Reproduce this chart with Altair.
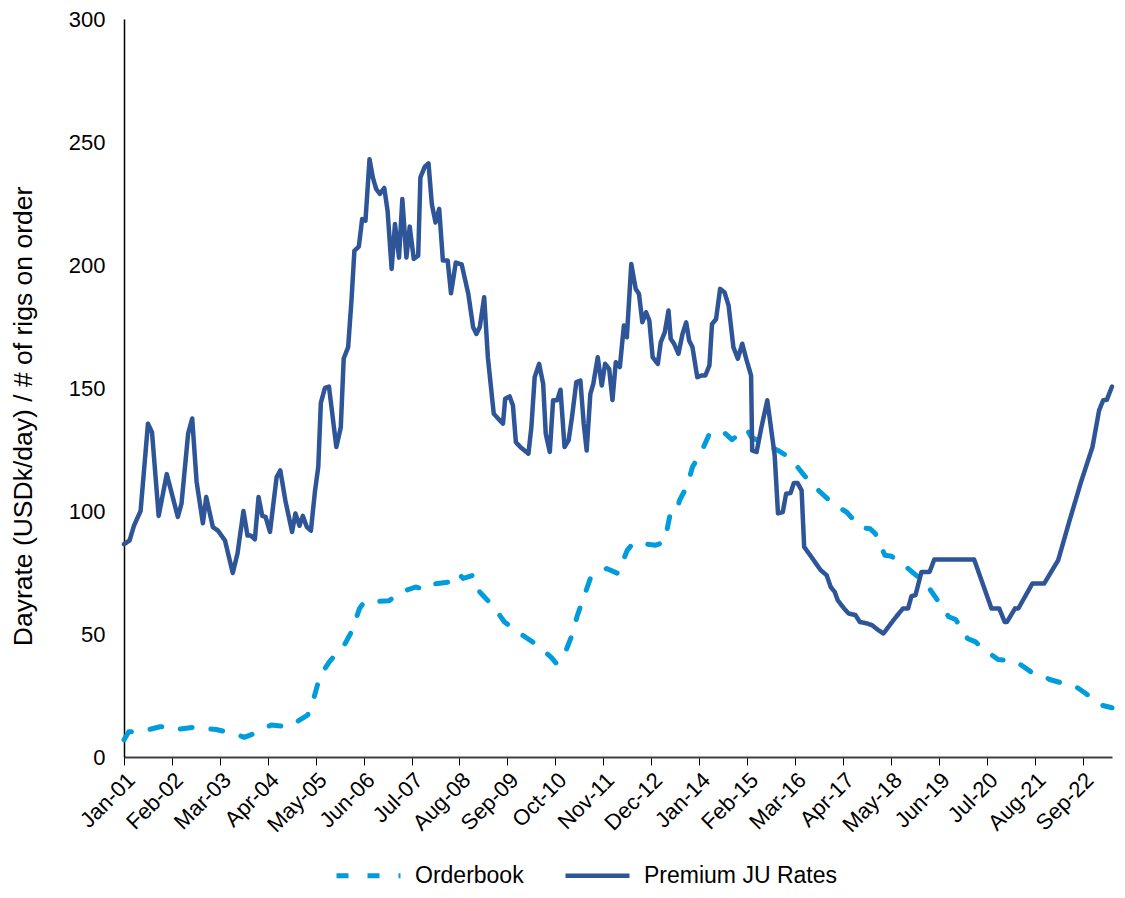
import json
import altair as alt
import pandas as pd

tick_labels = ["Jan-01", "Feb-02", "Mar-03", "Apr-04", "May-05", "Jun-06", "Jul-07",
               "Aug-08", "Sep-09", "Oct-10", "Nov-11", "Dec-12", "Jan-14", "Feb-15",
               "Mar-16", "Apr-17", "May-18", "Jun-19", "Jul-20", "Aug-21", "Sep-22"]
tick_months = [13 * i for i in range(len(tick_labels))]  # category index of each label

# months since Jan-01 (category index) and values
premium_month = [0, 1.5, 2.7, 4.5, 6.5, 7.6, 9.4, 11.6, 14.6, 15.6, 17.4, 18.5, 19.7, 21.4, 22.3,
                 24.1, 25.5, 27.4, 29.5, 30.8, 32.4, 33.5, 34.4, 35.5, 36.5, 37.5, 38.4, 39.6,
                 41.4, 42.4, 43.8, 45.6, 46.5, 47.6, 48.5, 49.6, 50.7, 51.8, 52.7, 53.4, 54.5,
                 55.6, 57.6, 58.8, 59.6, 60.8, 61.7, 62.5, 63.7, 64.6, 65.5, 66.6, 67.5, 68.4,
                 69.4, 70.6, 71.5, 72.6, 73.5, 74.6, 75.5, 76.6, 77.5, 78.6, 79.8, 80.4, 81.6,
                 82.6, 83.5, 84.5, 85.5, 86.5, 87.8, 88.7, 90, 91.6, 93.4, 94.7, 95.6, 96.5,
                 97.7, 98.7, 100.3, 102.8, 103.4, 104.6, 105.5, 106.3, 107.5, 109.7, 110.5,
                 111.4, 112.6, 113.7, 114.4, 115.5, 116.4, 117.5, 118.4, 119.5, 120.6, 121.5,
                 122.7, 123.8, 124.7, 125.5, 126.5, 127.3, 128.5, 129.6, 130.5, 131.6, 132.5,
                 133.4, 134.5, 135.6, 136.4, 137.6, 138.8, 139.7, 140.6, 141.6, 142.5, 143.4,
                 144.8, 145.6, 146.7, 147.7, 148.3, 149.2, 150.4, 151.5, 152.5, 153.3, 154.2,
                 155.5, 156.7, 157.7, 158.8, 159.5, 160.6, 161.7, 162.9, 164, 165.3, 166.5,
                 167.7, 168.9, 170.1, 170.4, 171.6, 172.9, 174.5, 176.5, 177.4, 178.7, 179.6,
                 180.8, 181.7, 182.7, 183.8, 184.5, 186.8, 189, 190.6, 191.7, 192.8, 193.6,
                 195.3, 196.6, 198.4, 199.6, 201.5, 202.9, 204.6, 206, 208.7, 211.3, 212.7,
                 213.6, 214.7, 216.3, 218.5, 219.8, 230.6, 235.3, 237.4, 238.9, 239.5, 241.7,
                 242.6, 246.4, 249.6, 253.4, 256.5, 259.6, 262.7, 264.5, 265.6, 266.6, 268]
premium_value = [86.5, 88, 94, 100, 135.5, 132, 98, 115, 97.6, 103, 131.5, 137.6, 111.8, 95, 105.7,
                 93.5, 92, 88, 74.8, 82.8, 100, 90, 90, 88.5, 105.7, 98, 97.6, 91.5,
                 113.8, 116.5, 104, 91.5, 99, 94, 98, 93.5, 92, 108, 118, 144, 150,
                 150.6, 126, 134, 162, 166.6, 185.5, 205.8, 207.5, 218.7, 218, 243, 235.6, 230.9,
                 228.9, 231.3, 222, 198.4, 216.7, 203, 226.8, 203, 215.6, 202.5, 203.8, 235.6, 240,
                 241.3, 224.8, 217.3, 222.8, 201.8, 201.8, 188.5, 201, 200.2, 188.2, 174.7, 172, 174.7,
                 186.9, 162.5, 139.5, 135.5, 145.6, 146.6, 142.9, 128, 126, 123.3, 134,
                 154.4, 159.8, 151.7, 131.4, 124, 145, 145, 149.3, 126, 128.7, 138,
                 152.4, 153, 135.5, 124.6, 147.6, 151.7, 162.5, 151, 159.8, 157.8, 145.1,
                 160.5, 158.5, 175.4, 170.6, 200.4, 190.3, 188.2, 176.7, 180.8, 177.4, 162.5,
                 159.8, 168.6, 172.7, 181.5, 170, 168, 163.9, 172, 176.7, 169.3, 166.6,
                 154.4, 155.1, 155.1, 159.2, 176, 178, 190.3, 188.9, 183.5, 166.6, 161.9,
                 168, 161.2, 155.1, 124.6, 124, 134, 145, 122.6, 99, 99.6, 107,
                 107.3, 111.4, 111.4, 108.4, 85.4, 80.6, 75.9, 73.9, 69.1, 67.1, 63.7,
                 60.4, 58.3, 57.7, 54.9, 54.3, 53.6, 51.6, 50.2, 55.6, 60.4, 60.4,
                 65.4, 65.8, 75.2, 75.2, 80.3, 80.3, 60.4, 60.4, 54.9, 54.9, 60.4,
                 60.4, 70.5, 70.5, 80, 96.2, 111.8, 126, 140.9, 145, 145.2, 150.6]

orderbook_month = [0, 1.3, 4.5, 9.8, 12.5, 14.3, 20.1, 21.9, 25, 30.4, 32.6, 34.9, 39.9, 44.7,
                   49.8, 51.4, 53.2, 54.5, 55.7, 59.9, 61.7, 63.9, 65.2, 67.5, 71.9, 74.6, 79.1,
                   81.8, 83.5, 88.9, 90.7, 92, 94.7, 96.5, 100.3, 103.2, 108.1, 111.7, 115.9,
                   117.3, 119.3, 121.5, 122.9, 126.5, 130.9, 134, 136.5, 138.1, 139.9, 144.2,
                   146.6, 147, 148.1, 149.7, 150.7, 152.8, 154.2, 156.8, 158.8, 162.4, 164.9,
                   168.9, 170.2, 177.4, 179.6, 181.1, 184.5, 186.3, 187.9, 192.1, 194.4, 196,
                   199.7, 202.4, 203.8, 206.4, 208.2, 210.9, 215.4, 218.7, 221.9, 223.7, 225.6,
                   228.8, 231, 232.4, 237.1, 241.7, 246.6, 248.9, 251.1, 256.5, 258.3, 260.9,
                   265, 268]
orderbook_value = [7, 10.3, 10.3, 12.3, 12.3, 11.2, 12.3, 11.6, 11.2, 9.3, 8, 9.3, 13, 12.3,
                   17, 23.4, 33.3, 36, 38.7, 45.9, 50.9, 60.4, 63.1, 63.1, 63.5, 66.7, 69.1,
                   68.1, 70.2, 71.2, 74.6, 72.6, 73.9, 67.1, 61, 54.9, 49.5, 45.9, 40.5,
                   38, 41, 49.5, 57.2, 72.6, 76.6, 74.6, 84, 87, 86.8, 86.1,
                   87.4, 90.1, 98.3, 98.9, 104.3, 110.4, 117.9, 124.6, 131.4, 132.4, 129,
                   133.4, 130, 124.6, 122.6, 120.9, 114.5, 111.4, 109.1, 103.2, 101, 99.6,
                   93.3, 92.8, 90.8, 82, 81.6, 78.9, 73.2, 68, 61, 57, 55.9,
                   48.2, 46.8, 44.8, 39.6, 39.1, 34, 33.3, 31.5, 29.2, 28.5, 25.8,
                   21.1, 20]

series_names = ["Orderbook", "Premium JU Rates"]
series_colors = ["#009CDC", "#2E5597"]

df = pd.concat([
    pd.DataFrame({"month": orderbook_month, "value": orderbook_value, "series": series_names[0]}),
    pd.DataFrame({"month": premium_month, "value": premium_value, "series": series_names[1]}),
], ignore_index=True)

FONT = "Liberation Sans"
label_expr = json.dumps(tick_labels) + "[round(datum.value / 13)]"

legend = alt.Legend(
    orient="none", legendX=232, legendY=844, direction="horizontal", columns=2,
    title=None, symbolType="M-3.2,0L3.2,0", symbolSize=400,
    symbolStrokeWidth=5, labelFontSize=23, labelFont=FONT, labelColor="#000000",
    labelLimit=400, columnPadding=32, labelOffset=34, padding=0,
)

chart = alt.Chart(df).mark_line(strokeCap="round", strokeJoin="round").encode(
    x=alt.X("month:Q",
            scale=alt.Scale(domain=[0, 268], nice=False, zero=False),
            axis=alt.Axis(values=tick_months, labelExpr=label_expr, labelAngle=-45,
                          title=None, grid=False, tickSize=8, tickColor="#000000",
                          domainColor="#404040", domainWidth=2, labelFontSize=22,
                          labelFont=FONT, labelColor="#000000", labelPadding=4,
                          labelOverlap=False, labelFlush=False)),
    y=alt.Y("value:Q",
            scale=alt.Scale(domain=[0, 300], nice=False),
            axis=alt.Axis(values=[0, 50, 100, 150, 200, 250, 300], ticks=False, grid=False,
                          title="Dayrate (USDk/day) / # of rigs on order",
                          titleFontSize=26.5, titleFont=FONT, titleFontWeight="normal",
                          titleColor="#000000", titleX=-101, titleY=397, titleAngle=-90,
                          titleAlign="center", titleBaseline="middle",
                          domainColor="#000000", domainWidth=1.5,
                          labelFontSize=22, labelFont=FONT, labelColor="#000000",
                          labelPadding=19)),
    color=alt.Color("series:N", scale=alt.Scale(domain=series_names, range=series_colors),
                    legend=legend),
    strokeDash=alt.StrokeDash("series:N",
                              scale=alt.Scale(domain=series_names, range=[[12, 19], [1, 0]]),
                              legend=legend),
    strokeWidth=alt.StrokeWidth("series:N",
                                scale=alt.Scale(domain=series_names, range=[5, 4.5]),
                                legend=None),
).properties(
    width=988, height=738,
    padding={"left": 2, "top": 0, "right": 0, "bottom": 0},
).configure_view(stroke=None)

chart.save("out.html", embed_options={"renderer": "svg", "actions": False})
